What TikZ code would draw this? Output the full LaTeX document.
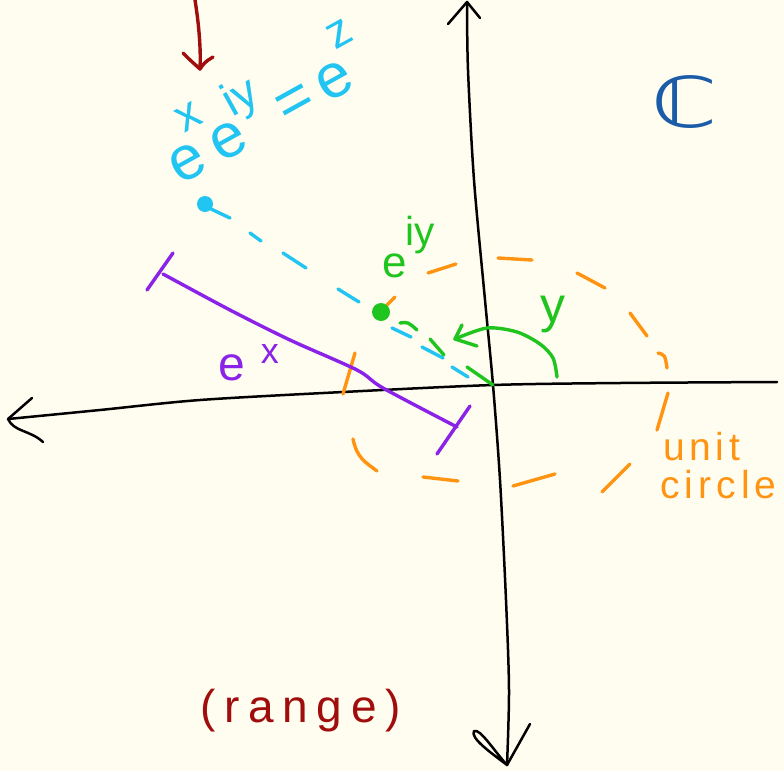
\documentclass[tikz,border=0pt]{standalone}
\usepackage{fontspec}
\setmainfont{Liberation Sans}
\newfontfamily\dejavu{DejaVu Sans}
\usetikzlibrary{positioning}
\definecolor{paper}{HTML}{FFFDF0}
\definecolor{inkred}{HTML}{A00D0D}
\definecolor{inkcyan}{HTML}{22C4F2}
\definecolor{inkgreen}{HTML}{1FC41F}
\definecolor{inkpurple}{HTML}{8A22E8}
\definecolor{inkorange}{HTML}{FF9412}
\definecolor{inkblue}{HTML}{1A5CA8}
\newcommand{\hsup}[2][0.7em]{\raisebox{#1}{\scalebox{0.75}{#2}}}

\begin{document}
\begin{tikzpicture}[x=1pt, y=-1pt, line cap=round, line join=round,
  axisline/.style={draw=black, line width=2.5pt},
  pen/.style={line width=3.4pt},
  hand/.style={inner sep=0pt, anchor=base west}]
  \fill[paper] (0,0) rectangle (784,771);
  \useasboundingbox (0,0) rectangle (784,771);
  \coordinate (O) at (493,385);

  \draw[axisline] plot[smooth] coordinates {(777,382) (620,383) (O) (343,392) (200,400) (100,410) (8,419)};
  \draw[axisline] (8,419) -- (32,398);
  \draw[axisline] (8,419) .. controls (14,432) and (30,430) .. (43,442);
  \draw[axisline] plot[smooth] coordinates {(467,2) (468,70) (474,180) (485,300) (O) (500,480) (506,600) (509,690) (507,765)};
  \draw[axisline] (448,24) -- (467,2) -- (480,18);
  \draw[axisline] (507,765) .. controls (490,752) and (470,738) .. (474,731) .. controls (480,728) and (495,752) .. (507,765) -- (530,724);

  \foreach \p/\q in {{(498,258)}/{(532,260)}, {(428,273)}/{(456,264)}, {(577,273)}/{(605,288)},
      {(630,313)}/{(647,336)}, {(668,393)}/{(657,430)}, {(630,464)}/{(602,492)},
      {(555,474)}/{(513,486)}, {(458,481)}/{(423,477)}, {(343,394)}/{(355,353)}, {(387,305)}/{(395,297)}}
    \draw[pen, inkorange] \p -- \q;
  \draw[pen, inkorange] (658,353) .. controls (665,355) .. (667,368);
  \draw[pen, inkorange] (353,439) .. controls (357,458) and (365,462) .. (377,471);
  \node[hand, text=inkorange, font=\fontsize{39}{39}\selectfont\addfontfeatures{LetterSpace=12}] (unit) at (663,460) {unit};
  \node[hand, text=inkorange, font=\fontsize{39}{39}\selectfont\addfontfeatures{LetterSpace=13}] (circ) at (660,498) {circle};

  \draw[pen, inkred] (195,0) .. controls (199,25) and (201,50) .. (200,69);
  \draw[pen, inkred] (183,53) .. controls (190,60) .. (200,69) .. controls (205,62) .. (213,57);
  \node[hand, text=inkred, font=\fontsize{46}{46}\selectfont\addfontfeatures{LetterSpace=19}] (range) at (200,722) {(range)};

  \node[hand, rotate=29, text=inkcyan, font=\fontsize{62}{62}\selectfont] (expz) at (180,186)
    {e\kern-5pt\hsup{x}\kern-6pt e\kern-2pt\hsup[0.55em]{iy}\hspace{10pt}=\hspace{10pt}e\kern-2pt\hsup{z}};
  \fill[inkcyan] (205,204) circle (8);
  \foreach \p/\q in {{(211,209)}/{(230,218)}, {(250,233)}/{(261,241)}, {(283,253)}/{(306,268)},
      {(338,289)}/{(359,302)}, {(392,328)}/{(411,337)}, {(422,347)}/{(443,358)}, {(452,367)}/{(468,377)}}
    \draw[pen, inkcyan] \p -- \q;

  \fill[inkgreen] (381,312) circle (9);
  \draw[pen, inkgreen] (400,323) .. controls (408,322) .. (417,330);
  \draw[pen, inkgreen] (430,339) -- (444,355);
  \draw[pen, inkgreen] (467,367) -- (O);
  \draw[pen, inkgreen] plot[smooth] coordinates {(557,377) (553,358) (540,344) (517,332) (487,328) (455,339)};
  \draw[pen, inkgreen] (462,325) -- (455,339) -- (477,346);
  \node[hand, text=inkgreen, font=\fontsize{44}{44}\selectfont] (eiy) at (382,277) {e\kern-1pt\raisebox{0.72em}{\scalebox{0.92}{iy}}};
  \node[hand, text=inkgreen, font=\fontsize{50}{50}\selectfont] (angle) at (540,322) {y};

  \draw[pen, inkpurple] plot[smooth] coordinates {(163,274) (230,310) (290,340) (357,370) (383,388) (457,427)};
  \draw[pen, inkpurple] (147,290) -- (173,253);
  \draw[pen, inkpurple] (470,406) -- (437,454);
  \node[hand, text=inkpurple, font=\fontsize{48}{48}\selectfont] (expx) at (218,380) {e\hspace{16pt}\hsup[17pt]{x}};

  \node[inner sep=0pt, text=inkblue, xscale=1.35, font=\fontsize{70}{70}\dejavu] (cplx) at (684,102) {ℂ};
\end{tikzpicture}
\end{document}
